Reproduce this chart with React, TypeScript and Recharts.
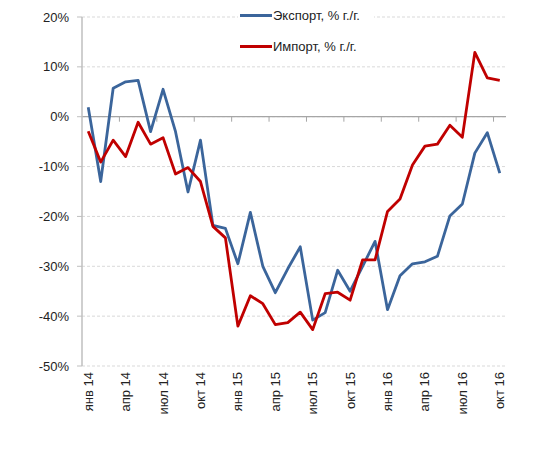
import { CartesianGrid, Line, LineChart, ReferenceLine, XAxis, YAxis } from 'recharts';

const months = [
  'янв 14', 'фев 14', 'мар 14', 'апр 14', 'май 14', 'июн 14', 'июл 14', 'авг 14', 'сен 14', 'окт 14', 'ноя 14', 'дек 14',
  'янв 15', 'фев 15', 'мар 15', 'апр 15', 'май 15', 'июн 15', 'июл 15', 'авг 15', 'сен 15', 'окт 15', 'ноя 15', 'дек 15',
  'янв 16', 'фев 16', 'мар 16', 'апр 16', 'май 16', 'июн 16', 'июл 16', 'авг 16', 'сен 16', 'окт 16',
];

const exportValues = [
  1.9, -13, 5.7, 7.0, 7.3, -3.0, 5.5, -3.0, -15.1, -4.7, -21.8, -22.4,
  -29.5, -19.2, -30, -35.3, -30.5, -26.1, -40.8, -39.3, -30.8, -35,
  -30, -25, -38.7, -31.9, -29.5, -29.1, -28, -19.9, -17.5, -7.3, -3.2, -11.3,
];

const importValues = [
  -2.9, -9.1, -4.7, -8, -1.1, -5.5, -4.2, -11.5, -10.2, -13, -22, -24.3,
  -42, -35.9, -37.5, -41.7, -41.3, -39.2, -42.7, -35.5, -35.2, -36.8,
  -28.7, -28.7, -19, -16.5, -9.7, -5.9, -5.5, -1.7, -4.1, 12.9, 7.8, 7.3,
];

const yTicks = [-50, -40, -30, -20, -10, 0, 10, 20];
const labelIdx = [0, 3, 6, 9, 12, 15, 18, 21, 24, 27, 30, 33];
const zeroTicks = [2.5, 5.5, 8.5, 11.5, 14.5, 17.5, 20.5, 23.5, 26.5, 29.5, 32.5];

const data = months.map((m, i) => ({ i, m, exp: exportValues[i], imp: importValues[i] }));

const FONT = '"Liberation Sans", Arial, sans-serif';

function MonthTick(props: any) {
  const { x, y, payload } = props;
  return (
    <text
      x={x}
      y={y}
      transform={`rotate(-90 ${x} ${y})`}
      textAnchor="end"
      dy="0.35em"
      fontSize={13}
      fontFamily={FONT}
      fill="#222"
    >
      {months[payload.value]}
    </text>
  );
}

function LegendBox() {
  const items = [
    { label: 'Экспорт, % г./г.', color: '#3b659b' },
    { label: 'Импорт, % г./г.', color: '#c00000' },
  ];
  return (
    <div
      style={{
        position: 'absolute', left: 238, top: 0, width: 136, height: 58,
        background: '#fff', fontFamily: FONT, fontSize: 13, color: '#222',
      }}
    >
      {items.map((it, k) => (
        <div key={it.label} style={{ position: 'absolute', left: 2, top: 6 + k * 31, height: 18, display: 'flex', alignItems: 'center' }}>
          <span style={{ display: 'inline-block', width: 32, height: 3, background: it.color }} />
          <span style={{ marginLeft: 1, whiteSpace: 'nowrap' }}>{it.label}</span>
        </div>
      ))}
    </div>
  );
}

export default function App() {
  return (
    <div style={{ position: 'absolute', left: 0, top: 0, width: 550, height: 449, background: '#fff' }}>
      <LineChart width={550} height={449} data={data} margin={{ top: 17, right: 44, bottom: 23, left: 0 }}>
        <CartesianGrid vertical={false} stroke="#d9d9d9" strokeDasharray="3 2" />
        <XAxis
          dataKey="i"
          type="number"
          domain={[-0.5, 33.5]}
          ticks={labelIdx}
          interval={0}
          axisLine={false}
          tickLine={false}
          height={60}
          tickMargin={0}
          tick={<MonthTick />}
        />
        <YAxis
          domain={[-50, 20]}
          ticks={yTicks}
          width={82}
          tickFormatter={(v) => `${v}%`}
          axisLine={{ stroke: '#bfbfbf', strokeWidth: 1.5 }}
          tickLine={{ stroke: '#bfbfbf' }}
          tickSize={5}
          tickMargin={8}
          tick={{ fontSize: 13, fontFamily: FONT, fill: '#222' }}
        />
        <ReferenceLine y={0} stroke="#a6a6a6" strokeWidth={1.2} />
        {zeroTicks.map((t) => (
          <ReferenceLine
            key={t}
            segment={[{ x: t, y: 0 }, { x: t, y: -1 }]}
            stroke="#a6a6a6"
          />
        ))}
        <Line dataKey="exp" stroke="#3b659b" strokeWidth={2.8} dot={false} isAnimationActive={false} strokeLinejoin="round" />
        <Line dataKey="imp" stroke="#c00000" strokeWidth={2.8} dot={false} isAnimationActive={false} strokeLinejoin="round" />
      </LineChart>
      <LegendBox />
    </div>
  );
}
